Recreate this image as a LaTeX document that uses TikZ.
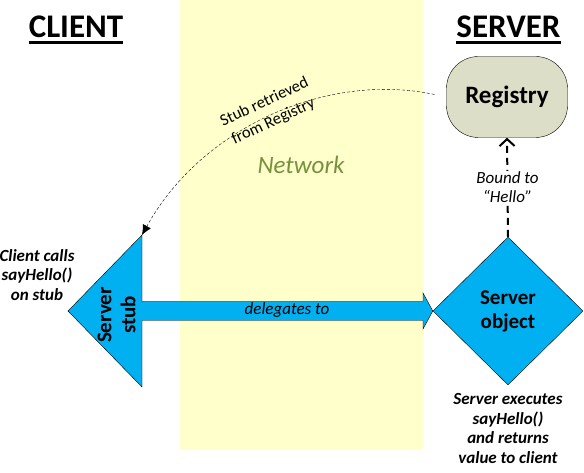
\documentclass[tikz,border=0pt]{standalone}
\usepackage{fontspec}
\setmainfont{Carlito}
\usetikzlibrary{shapes,positioning,arrows.meta}

\definecolor{netyellow}{RGB}{255,255,204}
\definecolor{objblue}{RGB}{0,176,240}
\definecolor{regfill}{RGB}{221,222,200}
\definecolor{netgreen}{RGB}{118,146,60}

\tikzset{
  head/.style={inner sep=0pt, font=\fontsize{33}{38}\selectfont\bfseries},
  blobtext/.style={align=center, font=\fontsize{21}{24}\selectfont\bfseries},
  note/.style={inner sep=0pt, align=center, font=\fontsize{17}{19.5}\selectfont\bfseries\itshape},
  tag/.style={inner sep=1pt, align=center, font=\fontsize{17}{19}\selectfont\itshape},
  regbox/.style={blobtext, font=\fontsize{25}{28}\selectfont\bfseries, draw, fill=regfill,
    rounded corners=32pt, minimum width=121pt, minimum height=81pt},
  objbox/.style={blobtext, diamond, draw, fill=objblue, inner sep=0pt,
    minimum width=150pt, minimum height=148pt},
  fetch/.style={densely dashed, -{Latex[length=10pt,width=9pt]}, shorten <=12pt},
  bound/.style={line width=2pt, dash pattern=on 7pt off 5pt,
    -{Straight Barb[length=7pt,width=15pt]}}
}

\begin{document}
\begin{tikzpicture}[x=1pt,y=1pt]
\useasboundingbox (0,0) rectangle (584,473);

% Network band
\fill[netyellow] (180,23) rectangle (423,473);
\node[tag, font=\fontsize{25}{28}\selectfont\itshape, text=netgreen] (net) at (301,308.5) {Network};

% Headings
\node[head] (client) at (76,446) {CLIENT};
\node[head] (server) at (508.5,446) {SERVER};
\draw[line width=2.5pt] ([yshift=-5pt]client.base west) -- ([yshift=-5pt]client.base east);
\draw[line width=2.5pt] ([yshift=-5pt]server.base west) -- ([yshift=-5pt]server.base east);

% Server side
\node[regbox] (reg) at (507,376) {Registry};
\node[objbox] (obj) at (508,162) {Server\\object};
\node[note, below=8pt of obj.south] (exec) {Server executes\\sayHello()\\and returns\\value to client};
\draw[bound] (obj.north) -- (reg.south)
  node[midway, tag, fill=white] (boundlbl) {Bound to\\“Hello”};

% Client side: stub with its arrow to the server object
\draw[fill=objblue] (68,162) -- (142,238) -- (142,171.5) -- (423,171.5) -- (423,180)
  -- (obj.west) -- (423,144) -- (423,152.5) -- (142,152.5) -- (142,86) -- cycle;
\coordinate (stubtop) at (142,238);
\node[blobtext, rotate=90] (stub) at (116.5,158) {Server\\stub};
\node[tag] (deleg) at (287,163) {delegates to};
\node[note] (call) at (37,198) {Client calls\\sayHello()\\on stub};

% Stub handed over by the registry
\draw[fetch] (reg.west) to[out=168,in=61,looseness=0.94] (stubtop);
\node[tag, rotate=25, font=\fontsize{16.5}{21}\selectfont] (fetchtxt) at (269,361) {Stub retrieved\\from Registry};

\end{tikzpicture}
\end{document}
